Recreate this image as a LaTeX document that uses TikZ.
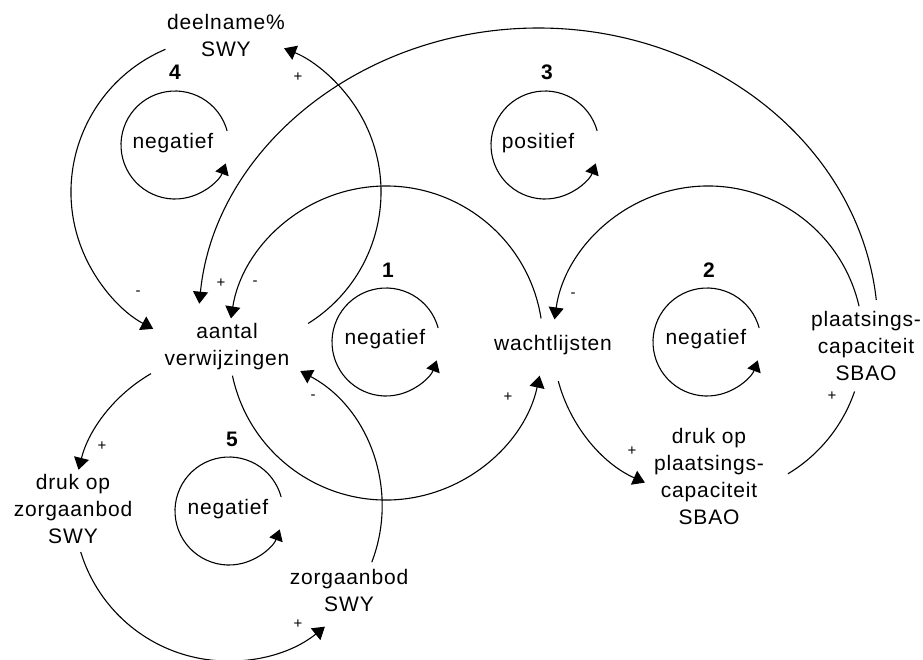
\documentclass[tikz,border=0pt]{standalone}
\usepackage{fontspec}
\setmainfont{Liberation Sans}[LetterSpace=4]
\usetikzlibrary{arrows.meta,calc}
\begin{document}
\begin{tikzpicture}[x=1pt,y=1pt,
  lbl/.style={font=\fontsize{21}{27}\selectfont, align=center, inner sep=0pt},
  num/.style={font=\fontsize{21}{21}\selectfont\bfseries, inner sep=0pt},
  sgn/.style={font=\fontsize{15}{15}\selectfont, inner sep=0pt},
  conn/.style={line width=1.1pt, -{Triangle[width=15pt,length=12pt]}},
  plainconn/.style={line width=1.1pt},
  loopc/.style={line width=1.1pt, -{Triangle[width=14pt,length=11pt]}}]
\useasboundingbox (0,0) rectangle (923,-659);

% ---- variable nodes
\node[lbl] (deel)   at (226,-35)  {deelname\%\\SWY};
\node[lbl] (aantal) at (227,-347) {aantal\\verwijzingen};
\node[lbl] (wacht)  at (553,-345) {wachtlijsten};
\node[lbl] (plaats) at (866,-346) {plaatsings-\\capaciteit\\SBAO};
\node[lbl] (drukp)  at (709,-476) {druk op\\plaatsings-\\capaciteit\\SBAO};
\node[lbl] (drukz)  at (73,-509)  {druk op\\zorgaanbod\\SWY};
\node[lbl] (zorg)   at (349,-590) {zorgaanbod\\SWY};

% ---- loop indicators
\node[num] (n4) at (175,-72)  {4};
\node[num] (n3) at (547,-72)  {3};
\node[num] (n1) at (388,-270) {1};
\node[num] (n2) at (709,-270) {2};
\node[num] (n5) at (232,-439) {5};

\coordinate (c4) at (175,-145);
\coordinate (c3) at (545,-145);
\coordinate (c1) at (386,-342);
\coordinate (c2) at (707,-342);
\coordinate (c5) at (229,-511);

\node[lbl] (t4) at (173,-143) {negatief};
\node[lbl] (t3) at (538,-143) {positief};
\node[lbl] (t1) at (385,-339) {negatief};
\node[lbl] (t2) at (706,-339) {negatief};
\node[lbl] (t5) at (228,-509) {negatief};

\foreach \c in {c4,c3,c1,c2,c5}{
  \draw[loopc] ($(\c)+(15:54)$) arc[start angle=15,end angle=340,radius=54];
}

% ---- connector centres
\coordinate (O4) at (226,-192);
\coordinate (O1) at (386,-343);
\coordinate (O2) at (708,-341);
\coordinate (O5) at (228,-507);
\coordinate (OE) at (538,-330);

% loop 4
\coordinate (s4a) at ($(O4)+(113:155)$);
\draw[conn] (s4a) arc[start angle=113,end angle=242,radius=155];
\coordinate (s4b) at ($(O4)+(-58:155)$);
\draw[conn] (s4b) arc[start angle=-58,end angle=68,radius=155];

% loop 1
\coordinate (s1a) at ($(O1)+(9:157)$);
\draw[conn] (s1a) arc[start angle=9,end angle=171,radius=157];
\coordinate (s1b) at ($(O1)+(192:157)$);
\draw[conn] (s1b) arc[start angle=192,end angle=348,radius=157];

% loop 3 (big ellipse)
\coordinate (sE) at ($(OE)+(5.7:340 and 302)$);
\draw[conn] (sE) arc[start angle=5.7,end angle=175,x radius=340,y radius=302];

% loop 2
\coordinate (s2a) at ($(O2)+(13:155)$);
\draw[conn] (s2a) arc[start angle=13,end angle=172,radius=155];
\coordinate (s2b) at ($(O2)+(195:155)$);
\draw[conn] (s2b) arc[start angle=195,end angle=246,radius=155];
\coordinate (s2c) at ($(O2)+(-59:155)$);
\draw[plainconn] (s2c) arc[start angle=-59,end angle=-19,radius=155];

% loop 5
\coordinate (s5a) at ($(O5)+(120:154)$);
\draw[conn] (s5a) arc[start angle=120,end angle=166,radius=154];
\coordinate (s5b) at ($(O5)+(197:154)$);
\draw[conn] (s5b) arc[start angle=197,end angle=309,radius=154];
\coordinate (s5c) at ($(O5)+(-21:154)$);
\draw[conn] (s5c) arc[start angle=-21,end angle=62,radius=154];

% ---- polarity signs
\node[sgn] (p1) at (298,-77)  {+};
\node[sgn] (p2) at (138,-293) {-};
\node[sgn] (p3) at (221,-283) {+};
\node[sgn] (p4) at (255,-283) {-};
\node[sgn] (p5) at (573,-295) {-};
\node[sgn] (p6) at (508,-397) {+};
\node[sgn] (p7) at (313,-397) {-};
\node[sgn] (p8) at (632,-451) {+};
\node[sgn] (p9) at (832,-396) {+};
\node[sgn] (p10) at (102,-446) {+};
\node[sgn] (p11) at (298,-624) {+};
\end{tikzpicture}
\end{document}
